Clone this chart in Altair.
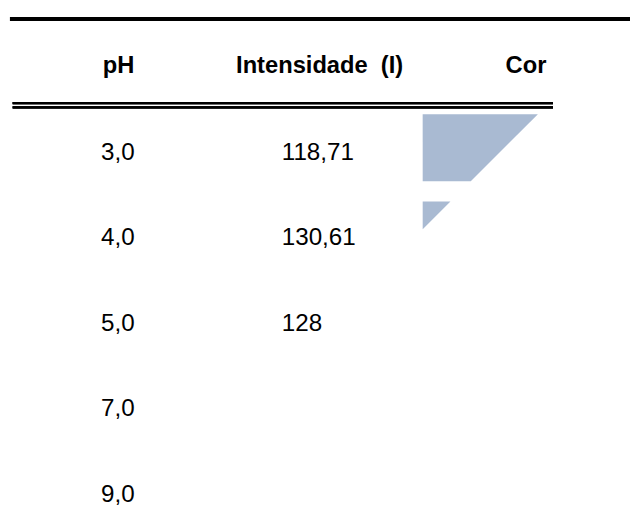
import altair as alt
import pandas as pd

# ---- table content ----
headers = ["pH", "Intensidade\u00a0 (I)", "Cor"]
ph = ["3,0", "4,0", "5,0", "7,0", "9,0"]
intensidade = ["118,71", "130,61", "128", "", ""]
cor = ["#a9bad2", "#a9bad2", "", "", ""]

# ---- layout constants (pixels in the plot area) ----
W, H = 630, 498
ROW0, PITCH = 150.3, 86.6          # baseline of first body row, row pitch
HEAD_Y = 63.0
HEAD_X = [96.0, 231.0, 504.0]      # left edge of header texts
PH_X, INT_X = 94.3, 277.3          # left edge of body columns
SW_L, SW_R = 420.0, 538.0          # swatch column
SW_TOP, SW_H = -46.0, 68.0         # swatch top relative to row baseline, height
DIAG = 641.0                       # swatch image visible where x + y <= DIAG

xs = alt.Scale(domain=[0, W], range=[0, W])
ys = alt.Scale(domain=[0, H], range=[0, H])

head_df = pd.DataFrame({
    "label": headers,
    "x": HEAD_X,
    "y": [HEAD_Y] * len(headers),
})

body_df = pd.DataFrame({
    "ph": ph,
    "intensidade": intensidade,
    "y": [ROW0 + PITCH * i for i in range(len(ph))],
})

sw_rows = []
for i, c in enumerate(cor):
    if not c:
        continue
    t = ROW0 + PITCH * i + SW_TOP + (2.0 if i else 0.0)
    b = t + SW_H
    xr = min(SW_R, DIAG - t)
    pts = [SW_L]
    if DIAG - b > SW_L:
        pts.append(DIAG - b)
    pts.append(xr)
    for x in pts:
        sw_rows.append({"row": i, "color": c, "x": x, "y": t,
                        "y2": max(t, min(b, DIAG - x))})
sw_df = pd.DataFrame(sw_rows)

base_text = dict(font="Liberation Sans", baseline="alphabetic",
                 align="left", color="black")

header = alt.Chart(head_df).mark_text(fontWeight="bold", fontSize=24, **base_text).encode(
    x=alt.X("x:Q", scale=xs, axis=None),
    y=alt.Y("y:Q", scale=ys, axis=None),
    text="label:N",
)

ph_text = alt.Chart(body_df).mark_text(fontSize=24.5, **base_text).encode(
    x=alt.value(PH_X),
    y=alt.Y("y:Q", scale=ys, axis=None),
    text="ph:N",
)

int_text = alt.Chart(body_df).mark_text(fontSize=24.5, **base_text).encode(
    x=alt.value(INT_X),
    y=alt.Y("y:Q", scale=ys, axis=None),
    text="intensidade:N",
)

swatch = alt.Chart(sw_df).mark_area(interpolate="linear", opacity=1).encode(
    x=alt.X("x:Q", scale=xs, axis=None),
    y=alt.Y("y:Q", scale=ys, axis=None),
    y2="y2:Q",
    detail="row:N",
    color=alt.Color("color:N", scale=None, legend=None),
)

top_rule = alt.Chart(head_df).mark_rule(color="black", strokeWidth=4).encode(
    x=alt.value(2), x2=alt.value(W), y=alt.value(8))
rule_a = alt.Chart(head_df).mark_rule(color="black", strokeWidth=2.4).encode(
    x=alt.value(4.7), x2=alt.value(552), y=alt.value(93.2))
rule_b = alt.Chart(head_df).mark_rule(color="black", strokeWidth=2.3).encode(
    x=alt.value(4.7), x2=alt.value(552), y=alt.value(97.5))

chart = alt.layer(
    swatch, top_rule, rule_a, rule_b, header, ph_text, int_text
).properties(
    width=W, height=H, autosize=alt.AutoSizeParams(type="none"), padding=0,
    background="white"
).configure_view(stroke=None)

chart.save("out.html", embed_options={"renderer": "svg", "actions": False})
